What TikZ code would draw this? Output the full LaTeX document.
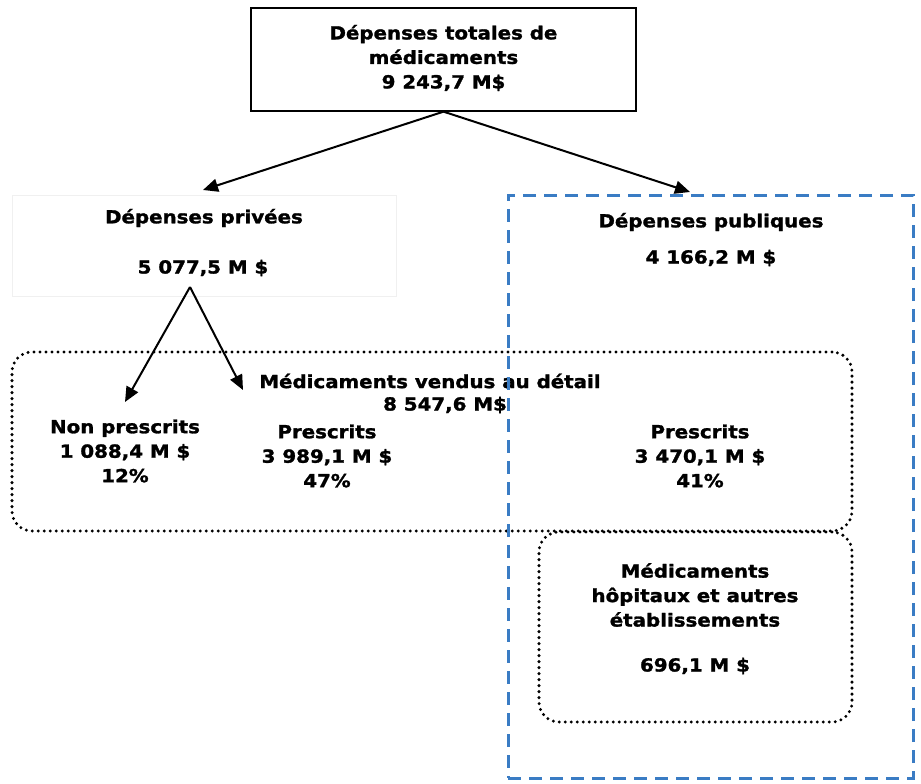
\documentclass[tikz,border=0pt]{standalone}
\usepackage{fontspec}
\setmainfont{DejaVu Sans}
\newfontfamily\lblfont{DejaVu Sans Bold}[FakeStretch=1.1, FakeBold=1.5]
\usetikzlibrary{arrows.meta}
\definecolor{pubblue}{RGB}{58,124,196}
\begin{document}
\begin{tikzpicture}[x=1pt,y=-1pt,
 lbl/.style={font=\fontsize{18}{24.5}\lblfont, align=center, inner sep=0pt},
 arr/.style={line width=2pt, -{Triangle[length=15pt,width=13pt]}},
 dotbox/.style={draw, line width=3.3pt, dash pattern=on 0pt off 6pt, line cap=round, rounded corners=20pt, inner sep=0pt},
 pubbox/.style={draw=pubblue, line width=3pt, dash pattern=on 13pt off 8pt, inner sep=0pt},
 plainbox/.style={draw, line width=1.3pt, inner sep=0pt},
 faintbox/.style={draw=black!6, line width=0.6pt, inner sep=0pt}]
\useasboundingbox (0,0) rectangle (921,784);

% top box
\node[plainbox, minimum width=385pt, minimum height=103pt] (totbox) at (443.5,59.5) {};
\node[lbl] (tot) at (443.5,58) {Dépenses totales de\\médicaments\\9 243,7 M\$};

% private
\node[faintbox, minimum width=384pt, minimum height=101pt] (privbox) at (204,245.5) {};
\node[lbl] (priv) at (204,218) {Dépenses privées};
\node[lbl] (privamt) at (203,268) {5 077,5 M \$};

% public
\node[lbl] (pub) at (711,222) {Dépenses publiques};
\node[lbl] (pubamt) at (711,258) {4 166,2 M \$};

% retail box
\node[dotbox, minimum width=840pt, minimum height=179pt] (retail) at (432,441.5) {};
\node[lbl] (ret) at (430,381) {Médicaments vendus au détail};
\node[lbl] (retamt) at (445,405) {8 547,6 M\$};

\node[lbl] (np) at (125,451) {Non prescrits\\1 088,4 M \$\\12\%};
\node[lbl] (pp) at (327,456) {Prescrits\\3 989,1 M \$\\47\%};
\node[lbl] (pubp) at (700,456) {Prescrits\\3 470,1 M \$\\41\%};

% hospital box
\node[dotbox, minimum width=313pt, minimum height=190pt] (hosp) at (695.5,627) {};
\node[lbl] (hosptxt) at (695,595) {Médicaments\\hôpitaux et autres\\établissements};
\node[lbl] (hospamt) at (695,666) {696,1 M \$};

% arrows
\coordinate (tip1) at (203,190);
\coordinate (tip2) at (690,192);
\draw[arr] (totbox.south) -- (tip1);
\draw[arr] (totbox.south) -- (tip2);
\coordinate (fork) at (190,287);
\coordinate (tip3) at (125,402);
\coordinate (tip4) at (243,390);
\draw[arr] (fork) -- (tip3);
\draw[arr] (fork) -- (tip4);

% public dashed box on top
\node[pubbox, minimum width=405pt, minimum height=583pt] (pubbox) at (710.5,486.5) {};
\end{tikzpicture}
\end{document}
